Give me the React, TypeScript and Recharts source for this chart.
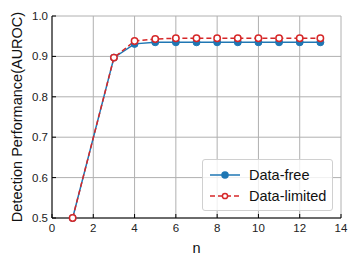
import React from 'react'
import { LineChart, Line, XAxis, YAxis, CartesianGrid, Legend } from 'recharts'

if (typeof document !== 'undefined') document.body.style.margin = '0'

const FONT = '"Liberation Sans", Arial, Helvetica, sans-serif'
const BLUE = '#1f77b4'
const RED = '#d62728'

const nValues = [1, 3, 4, 5, 6, 7, 8, 9, 10, 11, 12, 13]
const dataFree = [0.5, 0.897, 0.931, 0.935, 0.935, 0.935, 0.935, 0.935, 0.935, 0.935, 0.935, 0.935]
const dataLimited = [0.5, 0.897, 0.938, 0.943, 0.945, 0.945, 0.945, 0.945, 0.945, 0.945, 0.945, 0.945]
const xTicks = [0, 2, 4, 6, 8, 10, 12, 14]
const yTicks = [0.5, 0.6, 0.7, 0.8, 0.9, 1.0]

const chartData = nValues.map((n, i) => ({ n, free: dataFree[i], limited: dataLimited[i] }))

function BottomTick({ x, y, payload }: any) {
  return (
    <g>
      <line x1={x} y1={y} x2={x} y2={y - 4} stroke="#000" />
      <text x={x} y={y + 14} textAnchor="middle" fontSize={11.5} fill="#222" fontFamily={FONT}>
        {payload.value}
      </text>
    </g>
  )
}

function LeftTick({ x, y, payload }: any) {
  return (
    <g>
      <line x1={x} y1={y} x2={x + 4} y2={y} stroke="#000" />
      <text x={x - 4} y={y + 4} textAnchor="end" fontSize={11.5} fill="#222" fontFamily={FONT}>
        {Number(payload.value).toFixed(1)}
      </text>
    </g>
  )
}

function TopTick({ x, y }: any) {
  return <line x1={x} y1={y} x2={x} y2={y + 4} stroke="#000" />
}

function RightTick({ x, y }: any) {
  return <line x1={x} y1={y} x2={x - 4} y2={y} stroke="#000" />
}

function LegendBox() {
  const rows = [
    { label: 'Data-free', color: BLUE, dash: undefined, fill: BLUE, r: 3 },
    { label: 'Data-limited', color: RED, dash: '5 3', fill: '#fff', r: 2.6 },
  ]
  return (
    <div
      style={{
        width: 131,
        height: 52,
        border: '1px solid #d0d0d0',
        borderRadius: 3,
        background: 'rgba(255,255,255,0.8)',
        fontFamily: FONT,
        paddingTop: 4,
        boxSizing: 'border-box',
      }}
    >
      {rows.map(r => (
        <div key={r.label} style={{ display: 'flex', alignItems: 'center', height: 21 }}>
          <svg width={40} height={12} style={{ marginLeft: 6 }}>
            <line x1={1} y1={6} x2={31} y2={6} stroke={r.color} strokeWidth={1.5} strokeDasharray={r.dash} />
            <circle cx={16} cy={6} r={r.r} fill={r.fill} stroke={r.color} strokeWidth={1.5} />
          </svg>
          <span style={{ fontSize: 14.5, color: '#111', lineHeight: '16px' }}>{r.label}</span>
        </div>
      ))}
    </div>
  )
}

export default function App() {
  return (
    <div style={{ width: 358, height: 265, position: 'relative', background: '#fff' }}>
      <LineChart
        width={358}
        height={265}
        data={chartData}
        margin={{ top: 16, right: 17, bottom: 0, left: 0 }}
        style={{ fontFamily: FONT }}
      >
        <CartesianGrid stroke="#b0b0b0" strokeWidth={1} />
        <XAxis
          dataKey="n"
          type="number"
          domain={[0, 14]}
          ticks={xTicks}
          height={47}
          tickSize={0}
          tickMargin={0}
          tickLine={false}
          axisLine={{ stroke: '#000' }}
          tick={BottomTick}
          interval={0}
          label={{ value: 'n', position: 'insideBottom', offset: 12, fontSize: 14.5, fill: '#111', fontFamily: FONT }}
        />
        <XAxis
          xAxisId="top"
          dataKey="n"
          type="number"
          orientation="top"
          domain={[0, 14]}
          ticks={xTicks}
          height={0}
          tickSize={0}
          tickMargin={0}
          tickLine={false}
          axisLine={{ stroke: '#000' }}
          tick={TopTick}
          interval={0}
        />
        <YAxis
          type="number"
          domain={[0.5, 1.0]}
          ticks={yTicks}
          width={52}
          tickSize={0}
          tickMargin={0}
          tickLine={false}
          axisLine={{ stroke: '#000' }}
          tick={LeftTick}
          interval={0}
          label={{
            value: 'Detection Performance(AUROC)',
            angle: -90,
            position: 'insideLeft',
            offset: 0,
            dx: 17,
            style: { textAnchor: 'middle', fontSize: 14.5, fill: '#111', fontFamily: FONT },
          }}
        />
        <YAxis
          yAxisId="right"
          type="number"
          orientation="right"
          domain={[0.5, 1.0]}
          ticks={yTicks}
          width={0}
          tickSize={0}
          tickMargin={0}
          tickLine={false}
          axisLine={{ stroke: '#000' }}
          tick={RightTick}
          interval={0}
        />
        <Line
          type="linear"
          dataKey="free"
          name="Data-free"
          stroke={BLUE}
          strokeWidth={1.5}
          dot={{ r: 3.5, fill: BLUE, stroke: BLUE, strokeWidth: 1 }}
          isAnimationActive={false}
        />
        <Line
          type="linear"
          dataKey="limited"
          name="Data-limited"
          stroke={RED}
          strokeWidth={1.5}
          strokeDasharray="5 3"
          dot={{ r: 3.2, fill: '#fff', stroke: RED, strokeWidth: 1.5, strokeDasharray: '' }}
          isAnimationActive={false}
        />
        <Legend
          layout="horizontal"
          verticalAlign="middle"
          align="center"
          content={LegendBox}
          wrapperStyle={{ position: 'absolute', left: 202, top: 159, width: 'auto', height: 'auto' }}
        />
      </LineChart>
    </div>
  )
}
